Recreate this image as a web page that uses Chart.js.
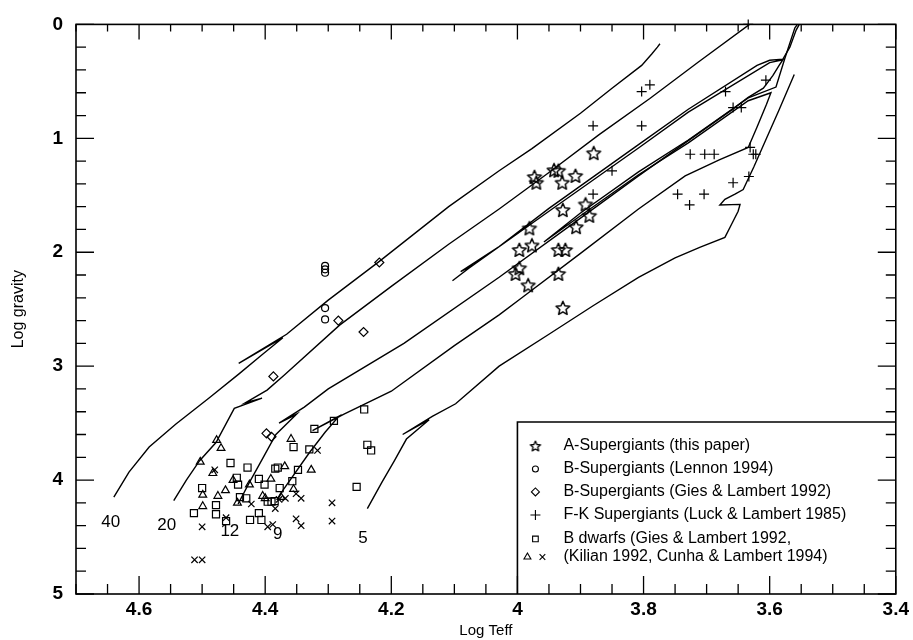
<!DOCTYPE html>
<html>
<head>
<meta charset="utf-8">
<title>Log gravity vs Log Teff</title>
<script src="https://cdn.jsdelivr.net/npm/chart.js@4.4.1/dist/chart.umd.min.js"></script>
<style>
  html, body { margin: 0; padding: 0; background: #fff; }
  #wrap { width: 913px; height: 640px; }
</style>
</head>
<body>
<div id="wrap"><canvas id="hr" width="913" height="640"></canvas></div>
<script>
// axis tick labels
const xTickLabels = [4.6, 4.4, 4.2, 4.0, 3.8, 3.6, 3.4];
const yTickLabels = [0, 1, 2, 3, 4, 5];

// evolutionary tracks
const track40X = [4.640, 4.616, 4.584, 4.542, 4.489, 4.442, 4.405, 4.372, 4.442, 4.366, 4.300, 4.219, 4.109, 4.029, 3.977, 3.900, 3.850, 3.803, 3.787, 3.778, 3.774];
const track40Y = [4.15, 3.93, 3.71, 3.51, 3.28, 3.07, 2.90, 2.75, 2.975, 2.72, 2.42, 2.08, 1.60, 1.285, 1.09, 0.78, 0.56, 0.36, 0.26, 0.20, 0.17];

const track20X = [4.545, 4.525, 4.504, 4.478, 4.449, 4.405, 4.431, 4.397, 4.370, 4.282, 4.200, 4.109, 4.029, 3.950, 3.871, 3.790, 3.713, 3.632];
const track20Y = [4.18, 4.00, 3.83, 3.67, 3.37, 3.28, 3.32, 3.21, 3.08, 2.64, 2.30, 1.93, 1.62, 1.30, 0.97, 0.65, 0.33, 0.00];

const track12X = [4.443, 4.425, 4.405, 4.383, 4.350, 4.378, 4.338, 4.300, 4.180, 4.029, 3.900, 3.808, 3.729, 3.660, 3.634, 3.610, 3.595, 3.585, 3.579,
                  3.600, 3.729, 3.808, 3.950, 4.077, 4.103, 4.070, 4.090, 4.029, 3.950, 3.808, 3.729, 3.620, 3.600, 3.579, 3.568, 3.558, 3.553];
const track12Y = [4.21, 4.02, 3.82, 3.60, 3.42, 3.50, 3.36, 3.20, 2.80, 2.22, 1.70, 1.33, 1.02, 0.75, 0.64, 0.56, 0.45, 0.36, 0.31,
                  0.335, 0.77, 1.085, 1.64, 2.14, 2.25, 2.11, 2.17, 1.95, 1.615, 1.055, 0.745, 0.36, 0.315, 0.305, 0.20, 0.05, 0.00];

const track9X = [4.380, 4.372, 4.330, 4.305, 4.283, 4.325, 4.275, 4.200, 4.100, 4.029, 3.993, 3.900, 3.808, 3.734, 3.680, 3.634, 3.620, 3.605, 3.598,
                 3.634, 3.729, 3.808, 3.900, 3.958, 3.900, 3.808, 3.729, 3.634, 3.590, 3.576, 3.560, 3.556];
const track9Y = [4.17, 4.09, 3.76, 3.58, 3.44, 3.565, 3.42, 3.22, 2.82, 2.55, 2.40, 2.01, 1.62, 1.33, 1.19, 1.08, 0.90, 0.70, 0.60,
                 0.67, 1.04, 1.32, 1.68, 1.91, 1.655, 1.295, 1.015, 0.645, 0.55, 0.30, 0.03, 0.00];

const track5X = [4.238, 4.215, 4.195, 4.176, 4.140, 4.182, 4.135, 4.098, 4.029, 3.950, 3.880, 3.808, 3.750, 3.710, 3.671, 3.660, 3.650, 3.647,
                 3.679, 3.671, 3.655, 3.642, 3.625, 3.605, 3.585, 3.561];
const track5Y = [4.25, 4.02, 3.83, 3.64, 3.47, 3.60, 3.44, 3.33, 3.00, 2.72, 2.47, 2.22, 2.05, 1.955, 1.87, 1.75, 1.64, 1.58,
                 1.585, 1.535, 1.49, 1.45, 1.25, 1.00, 0.75, 0.44];

// mass labels at the foot of each track
const massLabels = ['40', '20', '12', '9', '5'];
const massLabelX = [4.645, 4.556, 4.456, 4.380, 4.245];
const massLabelY = [4.37, 4.40, 4.45, 4.48, 4.51];

// A-Supergiants (this paper)
const aSupX = [3.879, 3.973, 3.970, 3.942, 3.935, 3.929, 3.908, 3.892, 3.886, 3.928, 3.981, 3.907, 3.977, 3.997, 3.935, 3.924, 3.997, 4.003, 3.935, 3.983, 3.928];
const aSupY = [1.13, 1.34, 1.39, 1.28, 1.285, 1.39, 1.33, 1.58, 1.68, 1.63, 1.79, 1.78, 1.94, 1.98, 1.98, 1.98, 2.14, 2.19, 2.19, 2.29, 2.49];

// B-Supergiants (Lennon 1994)
const bLennonX = [4.305, 4.305, 4.305, 4.305, 4.305];
const bLennonY = [2.12, 2.15, 2.18, 2.49, 2.59];

// B-Supergiants (Gies & Lambert 1992)
const bGiesX = [4.219, 4.284, 4.244, 4.387, 4.398, 4.390];
const bGiesY = [2.09, 2.60, 2.70, 3.09, 3.59, 3.62];

// F-K Supergiants (Luck & Lambert 1985)
const fkX = [3.634, 3.803, 3.790, 3.880, 3.803, 3.670, 3.658, 3.645, 3.606, 3.726, 3.703, 3.688, 3.631, 3.626, 3.622, 3.633, 3.658, 3.746, 3.704, 3.727, 3.850, 3.880];
const fkY = [0.00, 0.59, 0.53, 0.89, 0.89, 0.59, 0.73, 0.73, 0.49, 1.14, 1.14, 1.14, 1.08, 1.14, 1.14, 1.335, 1.39, 1.49, 1.49, 1.585, 1.285, 1.49];

// B dwarfs: squares (Gies & Lambert), triangles and crosses (Kilian, Cunha & Lambert)
const bDwarfSqX = [4.243, 4.238, 4.232, 4.255, 4.291, 4.322, 4.330, 4.355, 4.348, 4.357, 4.377, 4.384, 4.380, 4.401, 4.410, 4.428,
                   4.445, 4.443, 4.455, 4.440, 4.430, 4.396, 4.390, 4.385, 4.410, 4.424, 4.406, 4.462, 4.478, 4.478, 4.500, 4.513];
const bDwarfSqY = [3.38, 3.69, 3.74, 4.06, 3.48, 3.55, 3.73, 3.71, 3.91, 4.01, 4.07, 3.90, 3.89, 4.04, 3.99, 3.89,
                   3.98, 4.04, 3.85, 4.15, 4.16, 4.19, 4.19, 4.185, 4.29, 4.35, 4.35, 4.36, 4.30, 4.22, 4.07, 4.29];
const bDwarfTriX = [4.477, 4.470, 4.503, 4.483, 4.451, 4.425, 4.463, 4.475, 4.444, 4.499, 4.499, 4.391, 4.369, 4.359, 4.327, 4.355, 4.375, 4.404, 4.400];
const bDwarfTriY = [3.65, 3.72, 3.84, 3.94, 4.00, 4.04, 4.09, 4.14, 4.20, 4.13, 4.23, 3.99, 3.88, 3.64, 3.91, 4.08, 4.15, 4.14, 4.16];
const bDwarfXX = [4.480, 4.422, 4.384, 4.368, 4.351, 4.343, 4.317, 4.294, 4.294, 4.351, 4.343, 4.396, 4.388, 4.462, 4.500, 4.512, 4.500, 4.378];
const bDwarfXY = [3.91, 4.21, 4.25, 4.16, 4.12, 4.16, 3.74, 4.20, 4.36, 4.34, 4.40, 4.41, 4.39, 4.33, 4.41, 4.70, 4.70, 4.17];

const FONT = "'Liberation Sans', Arial, Helvetica, sans-serif";
Chart.defaults.font.family = FONT;
Chart.defaults.color = '#000';

const pts = (xs, ys) => xs.map((x, i) => ({ x: x, y: ys[i] }));

// hollow five-pointed star, used as an image point style
function makeStar(size, R, lw) {
  const c = document.createElement('canvas');
  c.width = c.height = size;
  const g = c.getContext('2d');
  const r = R * 0.46, m = size / 2;
  g.beginPath();
  for (let i = 0; i < 10; i++) {
    const a = -Math.PI / 2 + i * Math.PI / 5;
    const rr = i % 2 ? r : R;
    g.lineTo(m + rr * Math.cos(a), m + 0.5 + rr * Math.sin(a));
  }
  g.closePath();
  g.lineJoin = 'round';
  g.lineWidth = lw;
  g.strokeStyle = '#000';
  g.stroke();
  return c;
}
const starBig = makeStar(18, 7.2, 1.5);
const starSmall = makeStar(14, 5.4, 1.3);

function trackSet(xs, ys) {
  return {
    data: pts(xs, ys), showLine: true, borderColor: '#000', borderWidth: 1.4,
    pointRadius: 0, tension: 0, fill: false
  };
}

function markerSet(xs, ys, style, radius) {
  return {
    data: pts(xs, ys), showLine: false, pointStyle: style, pointRadius: radius,
    borderColor: '#000', pointBorderColor: '#000', pointBackgroundColor: 'rgba(0,0,0,0)',
    pointBorderWidth: 1.2, clip: false
  };
}

// frame + inward ticks on all four sides
const innerTicks = {
  id: 'innerTicks',
  afterDraw(chart) {
    const { ctx, chartArea: a, scales: { x, y } } = chart;
    ctx.save();
    ctx.strokeStyle = '#000';
    ctx.lineWidth = 1.6;
    ctx.strokeRect(a.left, a.top, a.right - a.left, a.bottom - a.top);
    ctx.lineWidth = 1.3;
    ctx.beginPath();
    for (let i = 0; i <= 26; i++) {
      const px = x.getPixelForValue(3.4 + i * 0.05);
      const major = i % 4 === 0;
      ctx.moveTo(px, a.bottom); ctx.lineTo(px, a.bottom - (major ? 18 : 10));
      ctx.moveTo(px, a.top); ctx.lineTo(px, a.top + (major ? 15 : 7));
    }
    for (let i = 0; i <= 25; i++) {
      const py = y.getPixelForValue(i * 0.2);
      const major = i % 5 === 0;
      ctx.moveTo(a.left, py); ctx.lineTo(a.left + (major ? 18 : 10), py);
      ctx.moveTo(a.right, py); ctx.lineTo(a.right - (major ? 18 : 10), py);
    }
    ctx.stroke();
    ctx.restore();
  }
};

// track masses
const massText = {
  id: 'massText',
  afterDraw(chart) {
    const { ctx, scales: { x, y } } = chart;
    ctx.save();
    ctx.font = '17px ' + FONT;
    ctx.fillStyle = '#000';
    ctx.textAlign = 'center';
    ctx.textBaseline = 'middle';
    massLabels.forEach((t, i) => ctx.fillText(t, x.getPixelForValue(massLabelX[i]), y.getPixelForValue(massLabelY[i])));
    ctx.restore();
  }
};

// boxed legend in the lower right corner
const legendRows = [
  { text: 'A-Supergiants (this paper)', dy: 24, marks: [{ style: starSmall, r: 6, dx: 18 }] },
  { text: 'B-Supergiants (Lennon 1994)', dy: 47, marks: [{ style: 'circle', r: 3, dx: 18 }] },
  { text: 'B-Supergiants (Gies & Lambert 1992)', dy: 70, marks: [{ style: 'rectRot', r: 4, dx: 18 }] },
  { text: 'F-K Supergiants (Luck & Lambert 1985)', dy: 93, marks: [{ style: 'cross', r: 5, dx: 18 }] },
  { text: 'B dwarfs (Gies & Lambert 1992,', dy: 117, marks: [{ style: 'rect', r: 4, dx: 18 }] },
  { text: '(Kilian 1992, Cunha & Lambert 1994)', dy: 135, marks: [{ style: 'triangle', r: 4, dx: 10 }, { style: 'crossRot', r: 4, dx: 25 }] }
];
const boxLegend = {
  id: 'boxLegend',
  afterDraw(chart) {
    const { ctx, chartArea: a, scales: { x, y } } = chart;
    const left = x.getPixelForValue(4.0), top = y.getPixelForValue(3.49);
    ctx.save();
    ctx.strokeStyle = '#000';
    ctx.lineWidth = 1.6;
    ctx.beginPath();
    ctx.moveTo(left, a.bottom); ctx.lineTo(left, top); ctx.lineTo(a.right, top);
    ctx.stroke();
    ctx.font = '16px ' + FONT;
    ctx.textBaseline = 'middle';
    legendRows.forEach(row => {
      row.marks.forEach(m => {
        ctx.fillStyle = 'rgba(0,0,0,0)';
        ctx.strokeStyle = '#000';
        ctx.lineWidth = 1.1;
        Chart.helpers.drawPoint(ctx, { pointStyle: m.style, radius: m.r, borderWidth: 1.1, rotation: 0 }, left + m.dx, top + row.dy);
      });
      ctx.fillStyle = '#000';
      ctx.fillText(row.text, left + 46, top + row.dy);
    });
    ctx.restore();
  }
};

const config = {
  type: 'scatter',
  data: {
    datasets: [
      trackSet(track40X, track40Y),
      trackSet(track20X, track20Y),
      trackSet(track12X, track12Y),
      trackSet(track9X, track9Y),
      trackSet(track5X, track5Y),
      markerSet(aSupX, aSupY, starBig, 8),
      markerSet(bLennonX, bLennonY, 'circle', 3.5),
      markerSet(bGiesX, bGiesY, 'rectRot', 4.5),
      markerSet(fkX, fkY, 'cross', 5),
      markerSet(bDwarfSqX, bDwarfSqY, 'rect', 5),
      markerSet(bDwarfTriX, bDwarfTriY, 'triangle', 4.5),
      markerSet(bDwarfXX, bDwarfXY, 'crossRot', 4.5)
    ]
  },
  options: {
    responsive: false,
    animation: false,
    devicePixelRatio: 1,
    events: [],
    layout: { padding: { top: 21, right: 15, left: 0, bottom: 0 } },
    plugins: { legend: { display: false }, tooltip: { enabled: false } },
    scales: {
      x: {
        type: 'linear', reverse: true, min: 3.4, max: 4.7,
        afterBuildTicks: s => { s.ticks = xTickLabels.map(v => ({ value: v })); },
        afterFit: s => { s.height = 46; },
        grid: { display: false, drawTicks: false },
        border: { display: false },
        ticks: { padding: 4, font: { size: 19, weight: 'bold' }, maxRotation: 0, autoSkip: false, callback: v => String(Number(v.toFixed(1))) },
        title: { display: true, text: 'Log Teff', font: { size: 15 }, padding: { top: 0, bottom: 0 } }
      },
      y: {
        type: 'linear', reverse: true, min: 0, max: 5,
        afterBuildTicks: s => { s.ticks = yTickLabels.map(v => ({ value: v })); },
        afterFit: s => { s.width = 76; },
        grid: { display: false, drawTicks: false },
        border: { display: false },
        ticks: { padding: 13, font: { size: 19, weight: 'bold' }, autoSkip: false, callback: v => String(v) },
        title: { display: true, text: 'Log gravity', font: { size: 16 }, padding: { top: 9, bottom: 0 } }
      }
    }
  },
  plugins: [innerTicks, massText, boxLegend]
};

new Chart(document.getElementById('hr'), config);
</script>
</body>
</html>
